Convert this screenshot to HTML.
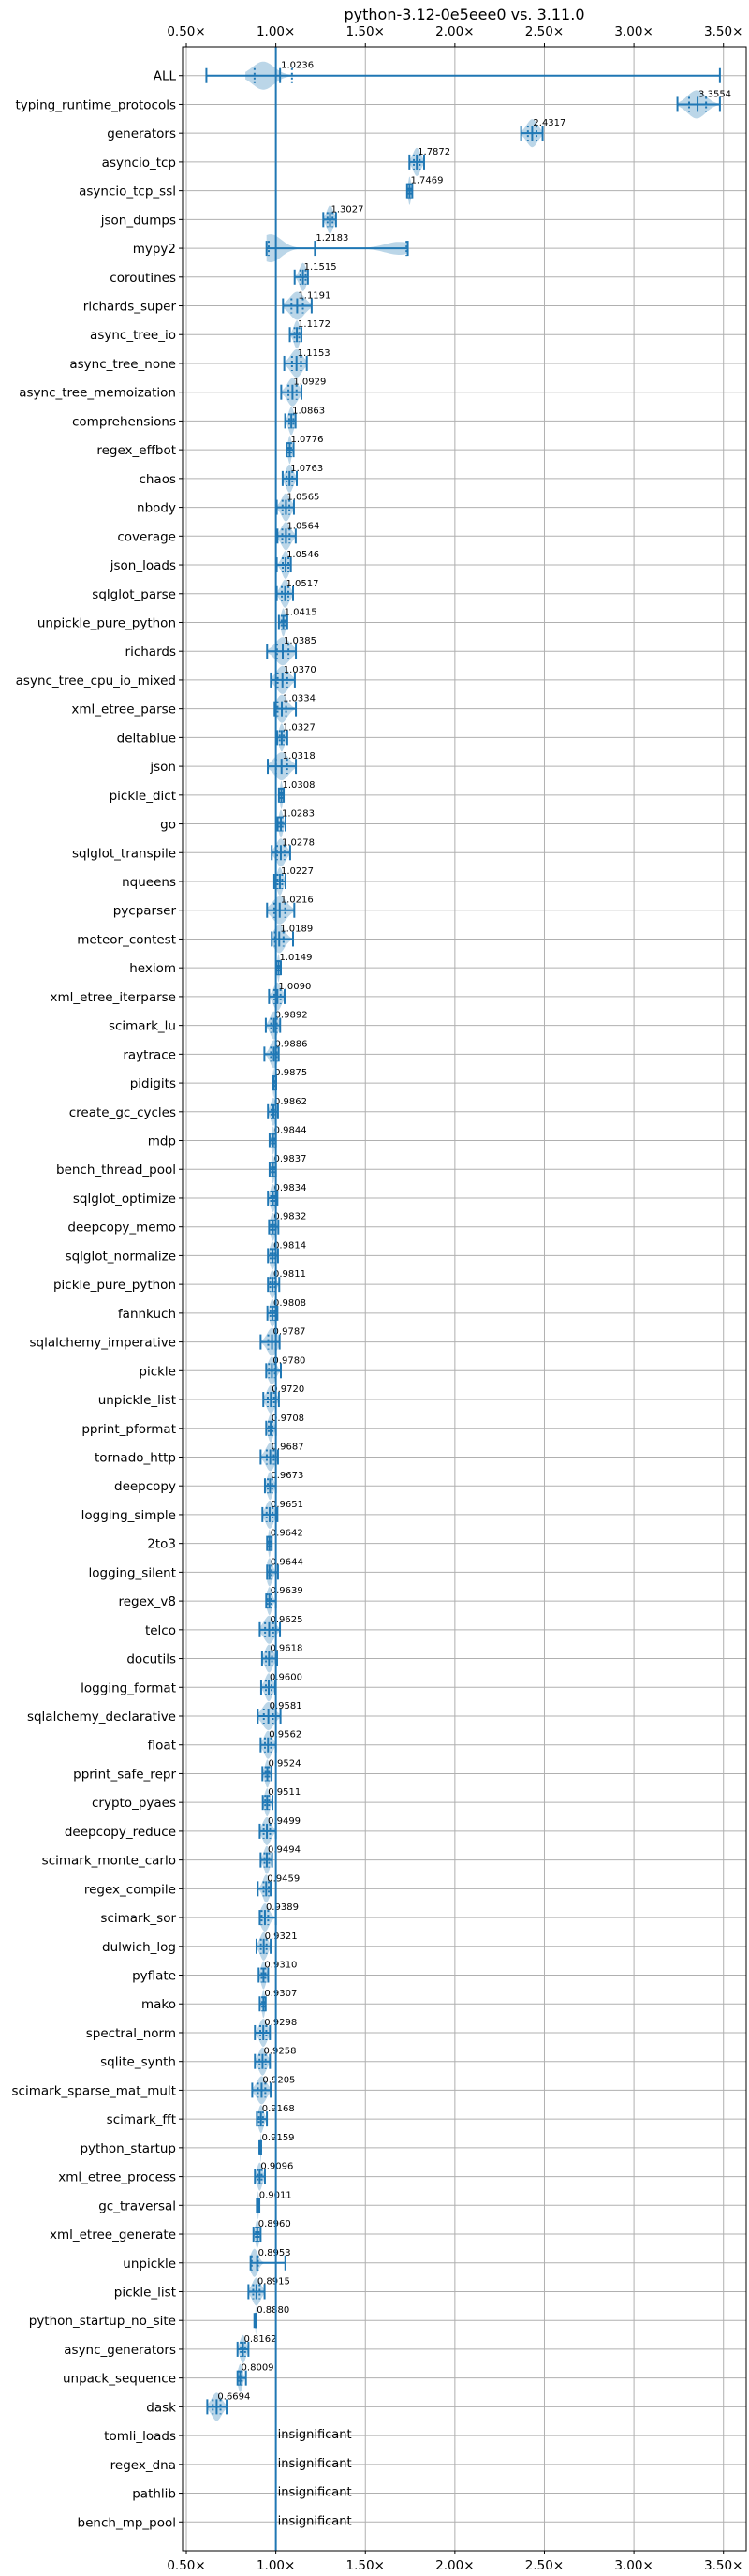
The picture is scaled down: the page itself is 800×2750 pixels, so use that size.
<!DOCTYPE html>
<html><head><meta charset="utf-8">
<style>
html,body{margin:0;padding:0;background:#fff;}
svg{display:block;font-family:"DejaVu Sans","Liberation Sans",sans-serif;}
</style></head>
<body>
<svg id="chart" width="800" height="2750" viewBox="0 0 800 2750" xmlns="http://www.w3.org/2000/svg">
<text x="496" y="21" font-size="16" text-anchor="middle" fill="#000">python-3.12-0e5eee0 vs. 3.11.0</text>
<g id="grid"></g>
<g id="marks"></g>
<g id="axes"></g>
</svg>
<script>
const names = ["ALL","typing_runtime_protocols","generators","asyncio_tcp","asyncio_tcp_ssl","json_dumps","mypy2","coroutines","richards_super","async_tree_io","async_tree_none","async_tree_memoization","comprehensions","regex_effbot","chaos","nbody","coverage","json_loads","sqlglot_parse","unpickle_pure_python","richards","async_tree_cpu_io_mixed","xml_etree_parse","deltablue","json","pickle_dict","go","sqlglot_transpile","nqueens","pycparser","meteor_contest","hexiom","xml_etree_iterparse","scimark_lu","raytrace","pidigits","create_gc_cycles","mdp","bench_thread_pool","sqlglot_optimize","deepcopy_memo","sqlglot_normalize","pickle_pure_python","fannkuch","sqlalchemy_imperative","pickle","unpickle_list","pprint_pformat","tornado_http","deepcopy","logging_simple","2to3","logging_silent","regex_v8","telco","docutils","logging_format","sqlalchemy_declarative","float","pprint_safe_repr","crypto_pyaes","deepcopy_reduce","scimark_monte_carlo","regex_compile","scimark_sor","dulwich_log","pyflate","mako","spectral_norm","sqlite_synth","scimark_sparse_mat_mult","scimark_fft","python_startup","xml_etree_process","gc_traversal","xml_etree_generate","unpickle","pickle_list","python_startup_no_site","async_generators","unpack_sequence","dask","tomli_loads","regex_dna","pathlib","bench_mp_pool"];
const medians = [1.0236,3.3554,2.4317,1.7872,1.7469,1.3027,1.2183,1.1515,1.1191,1.1172,1.1153,1.0929,1.0863,1.0776,1.0763,1.0565,1.0564,1.0546,1.0517,1.0415,1.0385,1.0370,1.0334,1.0327,1.0318,1.0308,1.0283,1.0278,1.0227,1.0216,1.0189,1.0149,1.0090,0.9892,0.9886,0.9875,0.9862,0.9844,0.9837,0.9834,0.9832,0.9814,0.9811,0.9808,0.9787,0.9780,0.9720,0.9708,0.9687,0.9673,0.9651,0.9642,0.9644,0.9639,0.9625,0.9618,0.9600,0.9581,0.9562,0.9524,0.9511,0.9499,0.9494,0.9459,0.9389,0.9321,0.9310,0.9307,0.9298,0.9258,0.9205,0.9168,0.9159,0.9096,0.9011,0.8960,0.8953,0.8915,0.8880,0.8162,0.8009,0.6694,null,null,null,null];
const mins = [0.612,3.243,2.37,1.746,1.733,1.265,0.948,1.105,1.040,1.078,1.047,1.030,1.052,1.061,1.038,1.005,1.009,1.005,1.005,1.017,0.951,0.972,0.993,1.007,0.955,1.017,1.010,0.977,0.991,0.951,0.977,1.002,0.962,0.944,0.936,0.983,0.956,0.965,0.965,0.956,0.962,0.956,0.956,0.953,0.915,0.946,0.930,0.946,0.915,0.939,0.925,0.951,0.951,0.946,0.910,0.923,0.918,0.899,0.915,0.925,0.927,0.910,0.915,0.899,0.910,0.892,0.904,0.910,0.883,0.883,0.868,0.894,0.908,0.883,0.894,0.875,0.859,0.847,0.880,0.786,0.786,0.617,null,null,null,null];
const maxs = [3.48,3.48,2.49,1.828,1.762,1.336,1.737,1.179,1.200,1.143,1.173,1.143,1.110,1.099,1.117,1.101,1.111,1.084,1.096,1.064,1.112,1.106,1.112,1.064,1.112,1.044,1.054,1.080,1.054,1.103,1.096,1.028,1.049,1.024,1.016,1.002,1.012,1.0,1.0,1.009,1.014,1.012,1.019,1.009,1.021,1.028,1.017,1.0,1.012,1.0,1.009,0.977,1.012,1.0,1.023,1.007,0.996,1.026,1.0,0.976,0.981,1.0,0.979,0.971,1.0,0.971,0.957,0.943,0.967,0.967,0.971,0.950,0.918,0.939,0.908,0.915,1.053,0.937,0.890,0.847,0.833,0.725,null,null,null,null];
// density modes: [row index, center, sigma, weight]
const modeRows = [0,1,6,6,76];
const modeCenters = [0.93,3.35,0.97,1.69,0.88];
const modeSigmas = [0.06,0.05,0.06,0.08,0.02];
const modeWeights = [1,1,1,0.45,1];
// explicit quartiles for rows where they differ from the default
const qRows = [0,6,76];
const qLows = [0.881,0.96,0.865];
const qHighs = [1.090,1.73,0.90];
const xTicks = [0.5,1.0,1.5,2.0,2.5,3.0,3.5];
const xTickLabels = ["0.50×","1.00×","1.50×","2.00×","2.50×","3.00×","3.50×"];

const NS = "http://www.w3.org/2000/svg";
const L = 195, R = 797, T = 50, B = 2723;
const X0 = 0.479, X1 = 3.627;
const xs = v => L + (v - X0) / (X1 - X0) * (R - L);
const ys = i => T + (i + 1) / (names.length + 1) * (B - T);
const C = "#1f77b4";
function el(tag, attrs, parent) {
  const e = document.createElementNS(NS, tag);
  for (const k in attrs) e.setAttribute(k, attrs[k]);
  parent.appendChild(e);
  return e;
}
const grid = document.getElementById("grid"), marks = document.getElementById("marks"), axes = document.getElementById("axes");

xTicks.forEach((t, k) => {
  const x = xs(t);
  const g = el("line", {x1: x, x2: x, y1: T, y2: B, stroke: "#b0b0b0", "stroke-width": 1}, grid);
  
  
  [[T, T - 4, 38], [B, B + 4, 2743]].forEach(([a, b, ty]) => {
    const tk = el("line", {x1: x, x2: x, y1: a, y2: b, stroke: "#000", "stroke-width": 1}, axes);
    
    
    const tl = el("text", {x: x, y: ty, "font-size": 13.5, "text-anchor": "middle", fill: "#000"}, axes);
    tl.textContent = xTickLabels[k];
    
    
  });
});

names.forEach((n, i) => {
  const y = ys(i);
  const g = el("line", {x1: L, x2: R, y1: y, y2: y, stroke: "#b0b0b0", "stroke-width": 1}, grid);
  
  
  const tk = el("line", {x1: L - 4, x2: L, y1: y, y2: y, stroke: "#000", "stroke-width": 1}, axes);
  
  
  const tl = el("text", {x: L - 7, y: y + 5, "font-size": 13.5, "text-anchor": "end", fill: "#000"}, axes);
  tl.textContent = n;
  
  
});

function density(i, v) {
  let d = 0, found = false;
  modeRows.forEach((r, k) => {
    if (r === i) { found = true; d += modeWeights[k] * Math.exp(-0.5 * Math.pow((v - modeCenters[k]) / modeSigmas[k], 2)); }
  });
  if (!found) {
    const s = (maxs[i] - mins[i]) / 4;
    d = Math.exp(-0.5 * Math.pow((v - medians[i]) / s, 2));
  }
  return d + 0.02;
}

names.forEach((n, i) => {
  const y = ys(i);
  const md = medians[i];
  if (md === null) {
    const t = el("text", {x: xs(1.0) + 2, y: y + 3, "font-size": 13, fill: "#000"}, marks);
    t.textContent = "insignificant";
    
    
    return;
  }
  const lo = mins[i], hi = maxs[i];
  let vlo = lo, vhi = hi;
  if (i === 0) { vlo = 0.83; vhi = 1.16; }
  const N = 60, pts = [];
  let mx = 0; const ds = [];
  for (let k = 0; k <= N; k++) { const v = vlo + (vhi - vlo) * k / N; const d = density(i, v); ds.push([v, d]); if (d > mx) mx = d; }
  ds.forEach(([v, d]) => pts.push(xs(v).toFixed(1) + "," + (y - 15 * d / mx).toFixed(1)));
  for (let k = ds.length - 1; k >= 0; k--) pts.push(xs(ds[k][0]).toFixed(1) + "," + (y + 15 * ds[k][1] / mx).toFixed(1));
  const vio = el("polygon", {points: pts.join(" "), fill: "rgba(31,119,180,0.3)", stroke: "none"}, marks);
  
  
  const rng = el("line", {x1: xs(lo), x2: xs(hi), y1: y, y2: y, stroke: C, "stroke-width": 2}, marks);
  
  
  [lo, hi].forEach(v => {
    const cap = el("line", {x1: xs(v), x2: xs(v), y1: y - 8, y2: y + 8, stroke: C, "stroke-width": 2}, marks);
    
    
  });
  const span = hi - lo;
  let qs = [md - span * 0.2, md + span * 0.2];
  const qi = qRows.indexOf(i);
  if (qi >= 0) qs = [qLows[qi], qHighs[qi]];
  qs.forEach(v => {
    const q = el("line", {x1: xs(v), x2: xs(v), y1: y - 8, y2: y + 8, stroke: C, "stroke-width": 2, "stroke-dasharray": "2,3"}, marks);
    
    
  });
  const m = el("line", {x1: xs(md), x2: xs(md), y1: y - 8, y2: y + 8, stroke: C, "stroke-width": 2}, marks);
  
  
  const a = el("text", {x: xs(md) + 1, y: y - 8, "font-size": 10, fill: "#000"}, marks);
  a.textContent = md.toFixed(4);
  
  
});

const ref = el("line", {x1: xs(1.0), x2: xs(1.0), y1: T, y2: B, stroke: C, "stroke-width": 2}, marks);


const frame = el("rect", {x: L, y: T, width: R - L, height: B - T, fill: "none", stroke: "#000", "stroke-width": 1}, axes);


</script>
</body></html>
